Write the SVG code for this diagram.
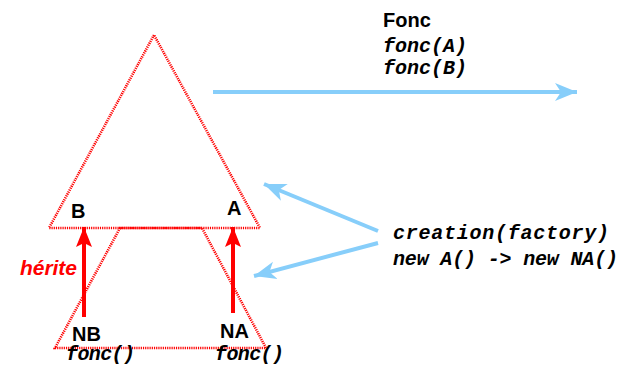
<svg xmlns="http://www.w3.org/2000/svg" width="637" height="366" viewBox="0 0 637 366">
<style>
.dot{fill:none;stroke:#ff0000;stroke-width:2.6;stroke-dasharray:1.2 1;}
.lbl{font-family:"Liberation Sans",Arial,sans-serif;font-weight:bold;font-size:20px;fill:#000;}
.code{font-family:"Liberation Mono","Courier New",monospace;font-weight:bold;font-style:italic;font-size:20px;fill:#000;}
.blue{stroke:#87CEFA;stroke-width:4;fill:none;}
.red{stroke:#ff0000;stroke-width:4;fill:none;}
</style>
<defs>
<marker id="ab" markerUnits="userSpaceOnUse" markerWidth="24" markerHeight="20" refX="22" refY="9" orient="auto" viewBox="0 0 24 18">
<path d="M0,0 L22,9 L0,18 L6,9 Z" fill="#87CEFA"/>
</marker>
<marker id="ar" markerUnits="userSpaceOnUse" markerWidth="22" markerHeight="18" refX="20" refY="8" orient="auto" viewBox="0 0 22 16">
<path d="M0,0 L20,8 L0,16 L4,8 Z" fill="#ff0000"/>
</marker>
</defs>
<g id="top-triangle">
<polygon class="dot" points="154,35 49,228 260,228"/>
<text class="lbl" x="71" y="218">B</text>
<text class="lbl" x="227" y="215">A</text>
</g>
<g id="bottom-trapezoid">
<polygon class="dot" points="120,228 55,348 266,348 202,228"/>
<text class="lbl" x="72" y="341">NB</text>
<text class="lbl" x="220" y="338">NA</text>
<text class="code" x="66" y="360" textLength="69">fonc()</text>
<text class="code" x="215" y="360" textLength="69">fonc()</text>
</g>
<g id="fonc">
<text class="lbl" x="383" y="27" font-size="21">Fonc</text>
<text class="code" x="383" y="52" textLength="84">fonc(A)</text>
<text class="code" x="383" y="74" textLength="84">fonc(B)</text>
</g>
<g id="creation">
<text class="code" x="393" y="239" textLength="216">creation(factory)</text>
<text class="code" x="393" y="265" textLength="225">new A() -&gt; new NA()</text>
</g>
<g id="herite">
<text x="20" y="275" font-family="'Liberation Sans',Arial,sans-serif" font-weight="bold" font-style="italic" font-size="21" fill="#ff0000" textLength="57">hérite</text>
</g>
<g id="connectors">
<line class="blue" x1="213" y1="92" x2="577" y2="92" marker-end="url(#ab)"/>
<line class="blue" x1="378" y1="231" x2="264" y2="184" marker-end="url(#ab)"/>
<line class="blue" x1="378" y1="243" x2="254" y2="276" marker-end="url(#ab)"/>
<line class="red" x1="84" y1="317" x2="84" y2="227" marker-end="url(#ar)"/>
<line class="red" x1="233" y1="313" x2="233" y2="227" marker-end="url(#ar)"/>
</g>
</svg>
